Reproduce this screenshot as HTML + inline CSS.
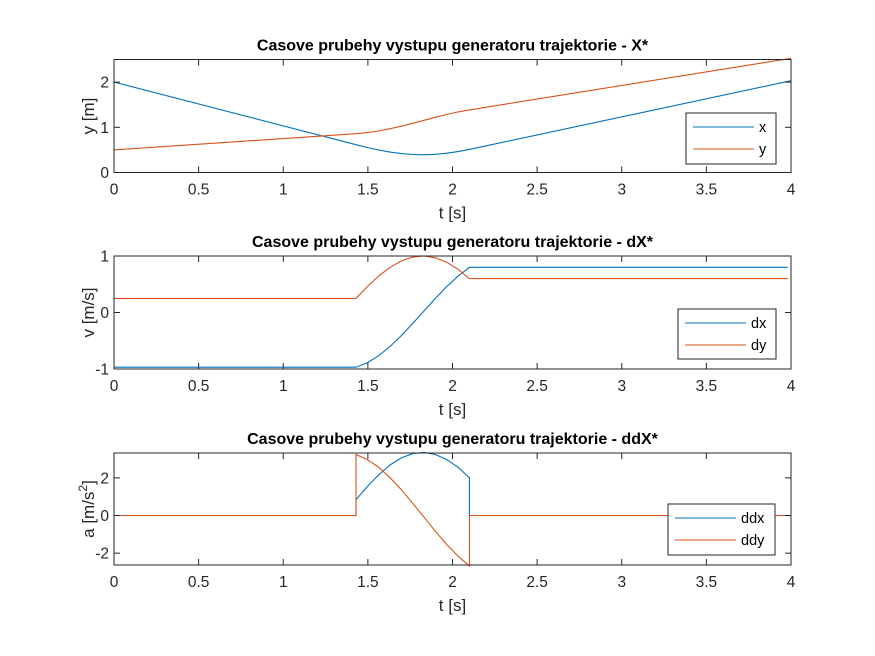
<!DOCTYPE html>
<html><head><meta charset="utf-8"><style>
body{margin:0;background:#fff;}
svg{display:block;font-family:"Liberation Sans",Arial,sans-serif;}
</style></head><body>
<svg id="c" width="875" height="656" viewBox="0 0 875 656"></svg>
<script>
const tPre=[0,1.43];
const tArc=[1.43,1.497,1.564,1.631,1.698,1.765,1.832,1.899,1.966,2.033,2.1];
const tPost=[2.1,4];
const xPre=[2,0.616];
const xArc=[0.616,0.554,0.498,0.452,0.418,0.398,0.392,0.402,0.426,0.463,0.512];
const xPost=[0.512,2.032];
const yPre=[0.5,0.858];
const yArc=[0.858,0.882,0.919,0.968,1.025,1.089,1.155,1.222,1.284,1.340,1.386];
const yPost=[1.386,2.526];
const dxArc=[-0.968,-0.888,-0.764,-0.601,-0.408,-0.194,0.028,0.250,0.459,0.645,0.800];
const dyArc=[0.250,0.460,0.646,0.799,0.913,0.981,1.000,0.968,0.888,0.764,0.600];
const ddxArc=[0.84,1.54,2.16,2.68,3.06,3.29,3.35,3.24,2.97,2.56,2.01];
const ddyArc=[3.24,2.97,2.56,2.01,1.37,0.65,-0.09,-0.84,-1.54,-2.16,-2.68];
const xTicks=[0,0.5,1,1.5,2,2.5,3,3.5,4];
const xTickLabels=["0","0.5","1","1.5","2","2.5","3","3.5","4"];
const BLUE="#0072BD",RED="#D95319";
const NS="http://www.w3.org/2000/svg";
const svg=document.getElementById('c');
function el(tag,attrs,parent){const e=document.createElementNS(NS,tag);for(const k in attrs)e.setAttribute(k,attrs[k]);(parent||svg).appendChild(e);return e;}
function cat(a,b,c){return a.concat(b.slice(1)).concat(c?c.slice(1):[]);}
const L=114,R=791;
const panels=[
 {top:59.5,bot:172.5,ymin:0,ymax:2.5,yt:[0,1,2],ytl:["0","1","2"],title:"Casove prubehy vystupu generatoru trajektorie - X*",ylab:"y [m]",
  series:[{t:cat(tPre,tArc,tPost),v:cat(xPre,xArc,xPost),c:BLUE,n:"x"},{t:cat(tPre,tArc,tPost),v:cat(yPre,yArc,yPost),c:RED,n:"y"}],
  leg:[686,113,90,51],names:["x","y"],key:"x"},
 {top:256,bot:369,ymin:-1,ymax:1,yt:[-1,0,1],ytl:["-1","0","1"],title:"Casove prubehy vystupu generatoru trajektorie - dX*",ylab:"v [m/s]",
  series:[{t:cat(tPre,tArc,[2.1,3.98]),v:cat([-0.968,-0.968],dxArc,[0.8,0.8]),c:BLUE,n:"dx"},{t:cat(tPre,tArc,[2.1,3.98]),v:cat([0.25,0.25],dyArc,[0.6,0.6]),c:RED,n:"dy"}],
  leg:[678,309,98,50],names:["dx","dy"],key:"dx"},
 {top:453,bot:565,ymin:-2.63,ymax:3.32,yt:[-2,0,2],ytl:["-2","0","2"],title:"Casove prubehy vystupu generatoru trajektorie - ddX*",ylab:"a",
  series:[{t:[0,1.43].concat(tArc).concat([2.1,2.1,3.98]),v:[0,0].concat(ddxArc).concat([0,0,0]),c:BLUE,n:"ddx"},{t:[0,1.43].concat(tArc).concat([2.1,2.1,3.98]),v:[0,0].concat(ddyArc).concat([0,0,0]),c:RED,n:"ddy"}],
  leg:[668,504,107,51],names:["ddx","ddy"],key:"ddx"}
];
panels.forEach((p,i)=>{
 const g=el('g',{});
 
 
 const sx=t=>L+(t/4)*(R-L);
 const sy=v=>p.bot-(v-p.ymin)/(p.ymax-p.ymin)*(p.bot-p.top);
 const bg=el('rect',{x:L,y:p.top,width:R-L,height:p.bot-p.top,fill:'#fff'},g);
 
 
 p.series.forEach(s=>{
  const pts=s.t.map((t,j)=>sx(t).toFixed(1)+','+sy(s.v[j]).toFixed(1)).join(' ');
  const pl=el('polyline',{points:pts,fill:'none',stroke:s.c,'stroke-width':1.1},g);
  
  
 });
 const ax=el('rect',{x:L,y:p.top,width:R-L,height:p.bot-p.top,fill:'none',stroke:'#262626','stroke-width':1},g);
 
 
 xTicks.forEach((t,j)=>{
  const x=sx(t);
  el('line',{x1:x,x2:x,y1:p.bot,y2:p.bot-6,stroke:'#262626'},g);
  el('line',{x1:x,x2:x,y1:p.top,y2:p.top+6,stroke:'#262626'},g);
  const tx=el('text',{x:x,y:p.bot+22,'text-anchor':'middle','font-size':15.5,fill:'#262626'},g);
  tx.textContent=xTickLabels[j];
  
  
 });
 p.yt.forEach((v,j)=>{
  const y=sy(v);
  el('line',{x1:L,x2:L+6,y1:y,y2:y,stroke:'#262626'},g);
  el('line',{x1:R,x2:R-6,y1:y,y2:y,stroke:'#262626'},g);
  const tx=el('text',{x:L-5,y:y+5.5,'text-anchor':'end','font-size':15.5,fill:'#262626'},g);
  tx.textContent=p.ytl[j];
  
  
 });
 const ti=el('text',{x:(L+R)/2,y:p.top-9,'text-anchor':'middle','font-size':16,'font-weight':'bold',fill:'#000'},g);
 ti.textContent=p.title;
 
 
 const xl=el('text',{x:(L+R)/2,y:p.bot+46,'text-anchor':'middle','font-size':17,fill:'#262626'},g);
 xl.textContent='t [s]';
 
 
 const cy=(p.top+p.bot)/2;
 const yl=el('text',{x:0,y:0,'text-anchor':'middle','font-size':17,fill:'#262626',transform:`translate(94,${cy}) rotate(-90)`},g);
 if(p.ylab==='a'){
  yl.appendChild(document.createTextNode('a [m/s'));
  const ts=el('tspan',{'font-size':12,dy:-7},yl);ts.textContent='2';
  const ts2=el('tspan',{dy:7},yl);ts2.textContent=']';
 } else yl.textContent=p.ylab;
 
 
 const [lx,ly,lw,lh]=p.leg;
 const lg=el('g',{},g);
 
 
 el('rect',{x:lx,y:ly,width:lw,height:lh,fill:'#fff',stroke:'#262626','stroke-width':1},lg);
 p.names.forEach((n,j)=>{
  const yy=ly+14+j*22;
  const e=el('line',{x1:lx+7,x2:lx+68,y1:yy,y2:yy,stroke:p.series[j].c,'stroke-width':1.1},lg);
  
  
  const t=el('text',{x:lx+73,y:yy+5,'font-size':14.5,fill:'#000'},lg);
  t.textContent=n;
  
  
 });
});
</script>
</body></html>
